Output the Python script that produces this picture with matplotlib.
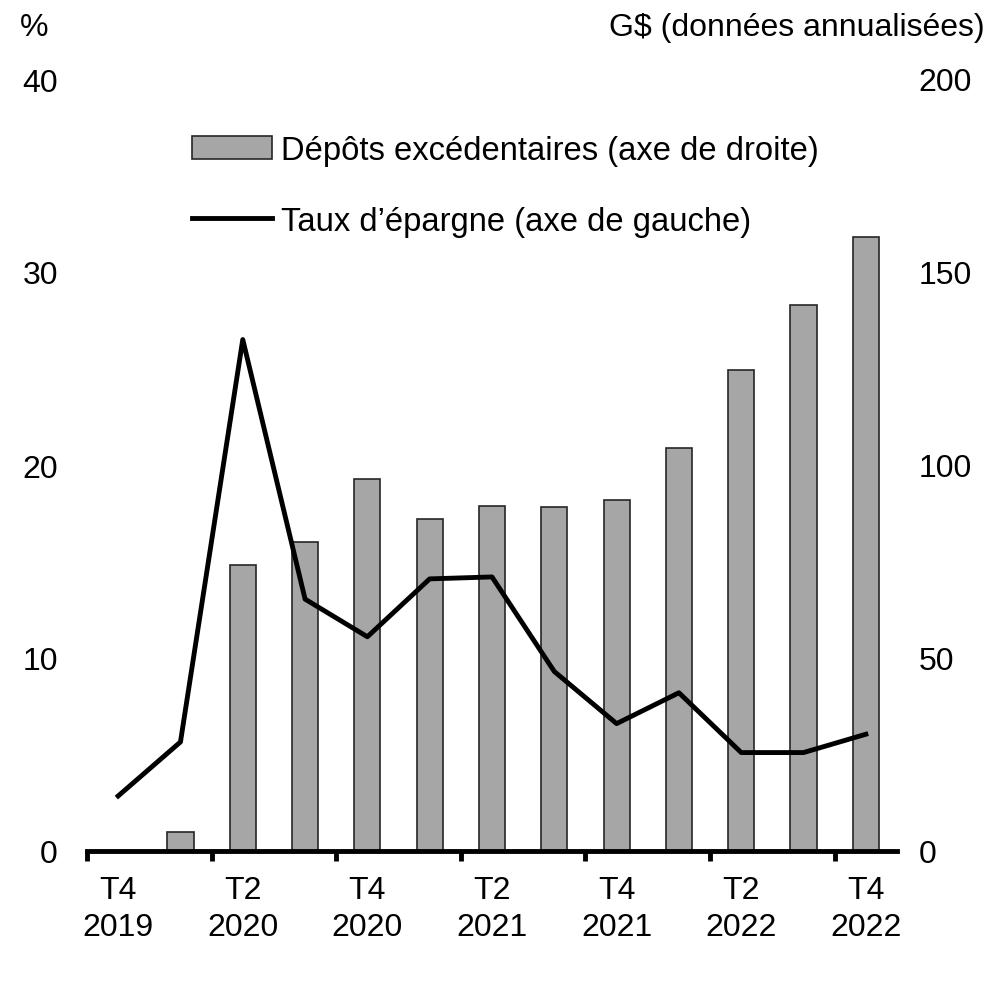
import numpy as np
import matplotlib.pyplot as plt

plt.rcParams['font.family'] = ['Liberation Sans', 'DejaVu Sans']

# Donnees (T4 2019 -> T4 2022)
trimestres = ['T4\n2019', '', 'T2\n2020', '', 'T4\n2020', '', 'T2\n2021', '',
              'T4\n2021', '', 'T2\n2022', '', 'T4\n2022']
depots = [0, 4.8, 74, 80, 96.5, 86, 89.5, 89, 91, 104.5, 124.5, 141.5, 159]
taux_epargne = [2.85, 5.65, 26.5, 13.05, 11.1, 14.1, 14.2, 9.3, 6.6, 8.2, 5.1, 5.1, 6.05]

x = np.arange(len(depots))
FS = 23

fig = plt.figure(figsize=(10.04, 10.04), dpi=100)
ax = fig.add_axes([87 / 1004, 1 - 852 / 1004, 810 / 1004, 772 / 1004])
ax2 = ax.twinx()

# Barres sur l'axe de droite
ax2.bar(x, depots, width=0.42, color='#a6a6a6', edgecolor='#262626', linewidth=1.2,
        label='Dépôts excédentaires (axe de droite)', zorder=1)
# Ligne sur l'axe de gauche (dessinee au-dessus)
ax.set_zorder(ax2.get_zorder() + 1)
ax.patch.set_visible(False)
ax.plot(x, taux_epargne, color='black', linewidth=3.5,
        label='Taux d\u2019épargne (axe de gauche)', zorder=3)

ax.set_xlim(-0.5, 12.5)
ax.set_ylim(0, 40)
ax2.set_ylim(0, 200)
ax.set_yticks([0, 10, 20, 30, 40])
ax2.set_yticks([0, 50, 100, 150, 200])

for a in (ax, ax2):
    for s in ['top', 'left', 'right', 'bottom']:
        a.spines[s].set_visible(False)
    a.tick_params(axis='y', length=0, labelsize=FS)
ax.tick_params(axis='y', pad=21)
ax2.tick_params(axis='y', pad=15.5)

ax.spines['bottom'].set_visible(True)
ax.spines['bottom'].set_linewidth(3.5)

# Graduations entre les trimestres, etiquettes au centre
ax.set_xticks(np.arange(-0.5, 12, 2))
ax.set_xticklabels([])
ax.tick_params(axis='x', which='major', direction='out', length=7, width=3.5)
ax.set_xticks(x, minor=True)
ax.set_xticklabels(trimestres, minor=True, fontsize=FS, linespacing=1.3)
ax.tick_params(axis='x', which='minor', length=0, pad=17)

fig.text(20 / 1004, 1 - 28 / 1004, '%', fontsize=FS, va='center', ha='left')
fig.text(985 / 1004, 1 - 28 / 1004, 'G$ (données annualisées)', fontsize=FS,
         va='center', ha='right')

h1, l1 = ax2.get_legend_handles_labels()
h2, l2 = ax.get_legend_handles_labels()
ax.legend(h1 + h2, l1 + l2, loc='upper left', bbox_to_anchor=(0.113, 0.945),
          frameon=False, fontsize=23.6, handlelength=2.45, handletextpad=0.28,
          labelspacing=1.22, borderaxespad=0)

plt.savefig('out.png', dpi=100)
